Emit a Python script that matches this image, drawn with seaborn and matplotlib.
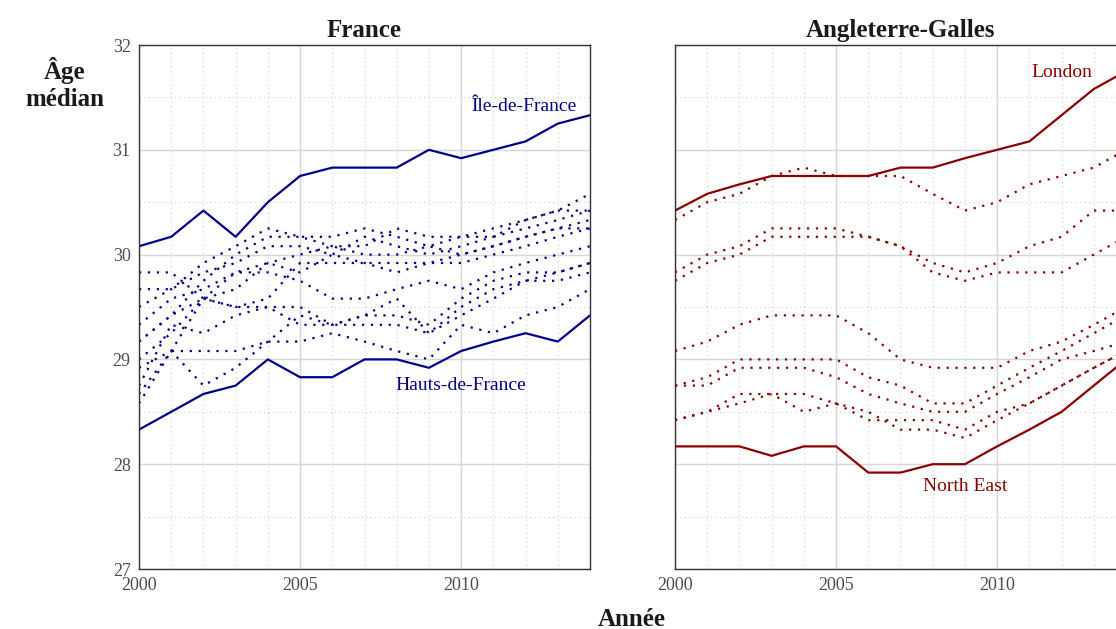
import numpy as np
import pandas as pd
import matplotlib
matplotlib.use("Agg")
import matplotlib.pyplot as plt
import seaborn as sns
from matplotlib.ticker import MultipleLocator

years = list(range(2000, 2015))

# France
fr_idf = [30.08, 30.17, 30.42, 30.17, 30.50, 30.75, 30.83, 30.83, 30.83, 31.00, 30.92, 31.00, 31.08, 31.25, 31.33]
fr_hdf = [28.33, 28.50, 28.67, 28.75, 29.00, 28.83, 28.83, 29.00, 29.00, 28.92, 29.08, 29.17, 29.25, 29.17, 29.42]
fr_r1 = [29.50, 29.67, 29.92, 30.08, 30.25, 30.17, 30.17, 30.25, 30.17, 30.08, 30.17, 30.25, 30.33, 30.42, 30.58]
fr_r2 = [29.17, 29.42, 29.75, 30.00, 30.17, 30.17, 30.08, 30.08, 30.25, 30.17, 30.17, 30.17, 30.25, 30.33, 30.42]
fr_r3 = [29.67, 29.67, 29.83, 29.92, 30.08, 30.08, 30.00, 30.17, 30.08, 30.00, 30.08, 30.17, 30.33, 30.42, 30.42]
fr_r4 = [29.83, 29.83, 29.58, 29.50, 29.58, 29.92, 29.92, 29.92, 29.92, 29.92, 30.00, 30.08, 30.17, 30.25, 30.33]
fr_r5 = [29.00, 29.25, 29.58, 29.83, 29.92, 29.83, 30.00, 29.92, 29.83, 29.92, 29.92, 30.00, 30.08, 30.17, 30.25]
fr_r6 = [29.33, 29.58, 29.67, 29.83, 29.83, 29.75, 29.58, 29.58, 29.67, 29.75, 29.67, 29.83, 29.92, 30.00, 30.08]
fr_r7 = [28.67, 29.08, 29.58, 29.50, 29.50, 29.50, 29.33, 29.42, 29.42, 29.33, 29.58, 29.75, 29.83, 29.83, 29.92]
fr_r8 = [28.75, 29.33, 29.25, 29.42, 29.50, 29.33, 29.33, 29.42, 29.58, 29.25, 29.50, 29.67, 29.75, 29.83, 29.92]
fr_r9 = [28.58, 29.08, 29.08, 29.08, 29.17, 29.17, 29.25, 29.17, 29.08, 29.00, 29.33, 29.25, 29.42, 29.50, 29.67]
fr_r10 = [28.92, 29.08, 28.75, 28.92, 29.17, 29.42, 29.33, 29.33, 29.33, 29.25, 29.42, 29.58, 29.75, 29.75, 29.83]
fr_r11 = [29.17, 29.42, 29.58, 29.67, 29.92, 30.00, 30.08, 30.00, 30.00, 30.08, 30.00, 30.08, 30.17, 30.25, 30.25]

# Angleterre-Galles
en_london = [30.42, 30.58, 30.67, 30.75, 30.75, 30.75, 30.75, 30.83, 30.83, 30.92, 31.00, 31.08, 31.33, 31.58, 31.75]
en_ne = [28.17, 28.17, 28.17, 28.08, 28.17, 28.17, 27.92, 27.92, 28.00, 28.00, 28.17, 28.33, 28.50, 28.75, 29.00]
en_r1 = [30.33, 30.50, 30.58, 30.75, 30.83, 30.75, 30.75, 30.75, 30.58, 30.42, 30.50, 30.67, 30.75, 30.83, 31.00]
en_r2 = [29.83, 30.00, 30.08, 30.25, 30.25, 30.25, 30.17, 30.08, 29.92, 29.83, 29.92, 30.08, 30.17, 30.42, 30.42]
en_r3 = [29.75, 29.92, 30.00, 30.17, 30.17, 30.17, 30.17, 30.08, 29.83, 29.75, 29.83, 29.83, 29.83, 30.00, 30.17]
en_r4 = [29.08, 29.17, 29.33, 29.42, 29.42, 29.42, 29.25, 29.00, 28.92, 28.92, 28.92, 29.08, 29.17, 29.33, 29.50]
en_r5 = [28.75, 28.83, 29.00, 29.00, 29.00, 29.00, 28.83, 28.75, 28.58, 28.58, 28.75, 28.92, 29.08, 29.25, 29.42]
en_r6 = [28.75, 28.75, 28.92, 28.92, 28.92, 28.83, 28.67, 28.58, 28.50, 28.50, 28.67, 28.83, 29.00, 29.08, 29.17]
en_r7 = [28.42, 28.50, 28.67, 28.67, 28.67, 28.58, 28.42, 28.42, 28.42, 28.33, 28.50, 28.58, 28.75, 28.92, 29.08]
en_r8 = [28.42, 28.50, 28.58, 28.67, 28.50, 28.58, 28.50, 28.33, 28.33, 28.25, 28.42, 28.58, 28.75, 28.92, 29.08]

panel_titles = ["France", "Angleterre-Galles"]
colors = ["#00008B", "#8B0000"]
y_ticks = [27, 28, 29, 30, 31, 32]
x_ticks = [2000, 2005, 2010]

fr_series = {"Île-de-France": fr_idf, "Hauts-de-France": fr_hdf,
             "r1": fr_r1, "r2": fr_r2, "r3": fr_r3, "r4": fr_r4, "r5": fr_r5, "r6": fr_r6,
             "r7": fr_r7, "r8": fr_r8, "r9": fr_r9, "r10": fr_r10, "r11": fr_r11}
en_series = {"London": en_london, "North East": en_ne,
             "e1": en_r1, "e2": en_r2, "e3": en_r3, "e4": en_r4, "e5": en_r5, "e6": en_r6,
             "e7": en_r7, "e8": en_r8}
highlights = [["Île-de-France", "Hauts-de-France"], ["London", "North East"]]


def to_df(series, hl):
    rows = []
    for name, vals in series.items():
        for y, v in zip(years, vals):
            rows.append({"region": name, "Année": y, "age": v,
                         "kind": "hl" if name in hl else "other"})
    return pd.DataFrame(rows)


sns.set_theme(style="white")
plt.rcParams["font.family"] = ["Liberation Serif", "DejaVu Serif"]

W, H = 1116, 629
fig = plt.figure(figsize=(W / 100, H / 100), dpi=100)
ax_l = fig.add_axes([139 / W, 1 - 569 / H, 451 / W, 524 / H])
ax_r = fig.add_axes([675 / W, 1 - 569 / H, 451 / W, 524 / H])
axes = [ax_l, ax_r]

label_info = [
    [("Île-de-France", 2013.6, 31.41, "right"), ("Hauts-de-France", 2010.0, 28.75, "center")],
    [("London", 2012.0, 31.74, "center"), ("North East", 2009.0, 27.79, "center")],
]

for i, (ax, series) in enumerate(zip(axes, [fr_series, en_series])):
    df = to_df(series, highlights[i])
    sns.lineplot(data=df, x="Année", y="age", units="region", estimator=None,
                 style="kind", style_order=["hl", "other"],
                 dashes={"hl": "", "other": (1, 3)},
                 color=colors[i], linewidth=1.6, legend=False, ax=ax)
    ax.set_xlim(2000, 2014)
    ax.set_ylim(27, 32)
    ax.set_xticks(x_ticks)
    ax.set_yticks(y_ticks)
    ax.xaxis.set_minor_locator(MultipleLocator(1))
    ax.yaxis.set_minor_locator(MultipleLocator(0.5))
    ax.grid(which="major", color="#D6D6D6", linewidth=1.0, linestyle="-")
    ax.grid(which="minor", color="#CFCFCF", linewidth=0.8, linestyle=(0, (1, 3)))
    ax.set_axisbelow(True)
    for s in ax.spines.values():
        s.set_color("#333333")
        s.set_linewidth(1.0)
        s.set_visible(True)
    ax.tick_params(axis="both", which="major", length=4, width=0.8, color="#333333",
                   labelcolor="#4D4D4D", labelsize=13, pad=2)
    ax.tick_params(axis="both", which="minor", length=0)
    ax.set_xlabel("")
    ax.set_ylabel("")
    ax.set_title(panel_titles[i], fontsize=18, fontweight="bold", color="#1A1A1A", pad=6)
    for txt, x, y, ha in label_info[i]:
        ax.text(x, y, txt, color=colors[i], fontsize=14, ha=ha, va="center")

ax_r.tick_params(axis="y", labelleft=False)

fig.text(65 / W, 1 - 84 / H, "Âge\nmédian", fontsize=18, fontweight="bold",
         ha="center", va="center", color="#1A1A1A", linespacing=1.25)
fig.text(632 / W, 1 - 619 / H, "Année", fontsize=18, fontweight="bold",
         ha="center", va="center", color="#1A1A1A")

fig.savefig("out.png", dpi=100)
